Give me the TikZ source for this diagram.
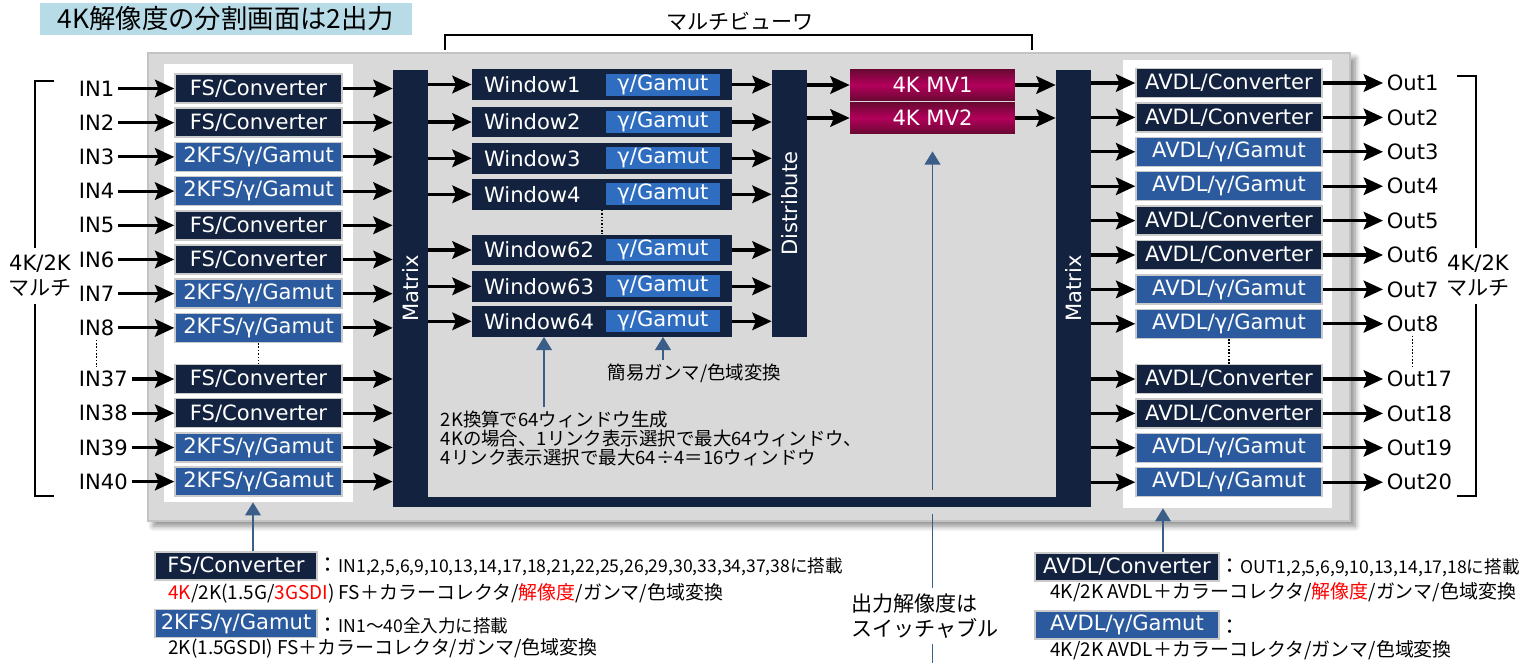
\documentclass[tikz,border=0pt]{standalone}
\usepackage{fontspec}
\setmainfont{DejaVu Sans}
\newfontfamily\jp{Noto Sans CJK JP}
\usetikzlibrary{
  arrows.meta,
  positioning,
  calc,
  shadows.blur
}
\definecolor{ink}{HTML}{000000}
\definecolor{navy}{HTML}{13233F}
\definecolor{midblue}{HTML}{2B5B9E}
\definecolor{gamblue}{HTML}{2F6DC0}
\definecolor{mvdark}{HTML}{6A0833}
\definecolor{mvmid}{HTML}{B3005B}
\definecolor{panelgrey}{HTML}{D9D9D9}
\definecolor{greyline}{HTML}{C3C3C3}
\definecolor{boxline}{HTML}{CACACA}
\definecolor{titlebg}{HTML}{B7DCE8}
\definecolor{notec}{HTML}{3A5E88}
\definecolor{hot}{HTML}{FF0000}
\newcommand\boxfont{\fontsize{12pt}{14.2pt}\selectfont}
\newcommand\notefont{\jp\fontsize{10.5pt}{10.7pt}\selectfont}
\newcommand\legfont{\jp\fontsize{10.8pt}{13pt}\selectfont}
\newcommand\mountfont{\fontsize{10pt}{12pt}\selectfont}
\tikzset{
  every picture/.style={line join=miter},
  titlebox/.style={fill=titlebg, minimum width=7.44cm, minimum height=0.64cm, inner sep=0pt,
    font=\jp\fontsize{15pt}{17pt}\selectfont},
  greyframe/.style={fill=panelgrey, draw=greyline, line width=0.8pt,
    blur shadow={shadow xshift=3pt, shadow yshift=-3pt, shadow blur radius=3pt,
      shadow blur steps=8, shadow opacity=45}},
  panel/.style={fill=white, inner sep=0pt},
  box/.style={draw=boxline, line width=0.85pt, text=white, font=\boxfont,
    minimum height=0.58cm, inner sep=0pt},
  fsbox/.style={box, fill=navy, minimum width=3.34cm},
  fsgam/.style={fsbox, fill=midblue},
  avbox/.style={box, fill=navy, minimum width=3.72cm},
  avgam/.style={avbox, fill=midblue},
  win/.style={fill=navy, text=white, font=\boxfont, text width=4.72cm, align=left,
    inner xsep=0.24cm, inner ysep=0pt, minimum height=0.61cm},
  gam/.style={fill=gamblue, text=white, font=\boxfont, minimum width=2.28cm,
    minimum height=0.44cm, inner sep=0pt},
  bar/.style={fill=navy, inner sep=0pt, minimum width=0.7cm},
  bartext/.style={rotate=90, text=white, font=\boxfont},
  mv/.style={top color=mvdark, bottom color=mvdark, middle color=mvmid, text=white,
    font=\boxfont, minimum width=3.3cm, minimum height=0.62cm, inner sep=0pt},
  inlbl/.style={font=\boxfont, anchor=west, inner sep=2pt},
  jplbl/.style={font=\jp\fontsize{12pt}{14.2pt}\selectfont},
  side/.style={fill=white, font=\boxfont, align=center, inner xsep=1pt, inner ysep=4pt},
  sig/.style={-{Stealth[length=11pt, width=10pt, inset=2pt]}, line width=1.8pt, draw=ink},
  note/.style={draw=notec, line width=0.9pt},
  notearrow/.style={note, -{Triangle[length=7.5pt, width=9pt]}},
  dotline/.style={densely dotted, line width=0.9pt},
  brack/.style={line width=0.8pt},
  notetxt/.style={font=\notefont, align=left, inner sep=2pt},
  legbox/.style={box, minimum height=0.56cm},
  legtxt/.style={font=\jp\fontsize{12pt}{14pt}\selectfont, anchor=west, inner sep=0pt},
  legline/.style={font=\legfont, anchor=west, inner sep=2pt}
}
\begin{document}
\begin{tikzpicture}[x=0.02cm, y=-0.02cm]
  \useasboundingbox (0,0) rectangle (1524,663);

  % Title and frame
  \node[titlebox] (ttl) at (226,19) {4K解像度の分割画面は2出力};
  \path[greyframe] (148,53) rectangle (1350,521);
  \draw[brack] (445,50) -- (445,35) -- (1032,35) -- (1032,50);
  \node[jplbl] (mvttl) at (740,21) {マルチビューワ};

  % Panels and bars
  \node[panel, minimum width=3.78cm, minimum height=8.76cm] (panL) at (258.5,283) {};
  \node[panel, minimum width=4.18cm, minimum height=8.96cm] (panR) at (1227.5,284) {};
  \node[bar, minimum height=8.74cm] (mxL) at (410.5,288.5) {};
  \node[bar, minimum height=8.74cm] (mxR) at (1073.5,288.5) {};
  \node[bar, minimum width=13.96cm, minimum height=0.2cm] (mxB) at (742,502) {};
  \node[bartext] at (mxL) {Matrix};
  \node[bartext] at (mxR) {Matrix};
  \node[bar, minimum height=5.34cm] (dist) at (789.5,203.5) {};
  \node[bartext] at (dist) {Distribute};

  % Inputs
  \node[inlbl] (in1) at (75,88.5) {IN1};
  \node[inlbl] (in2) at (75,122.7) {IN2};
  \node[inlbl] (in3) at (75,156.9) {IN3};
  \node[inlbl] (in4) at (75,191.1) {IN4};
  \node[inlbl] (in5) at (75,225.3) {IN5};
  \node[inlbl] (in6) at (75,259.5) {IN6};
  \node[inlbl] (in7) at (75,293.7) {IN7};
  \node[inlbl] (in8) at (75,327.9) {IN8};
  \node[inlbl] (in37) at (75,379) {IN37};
  \node[inlbl] (in38) at (75,413.2) {IN38};
  \node[inlbl] (in39) at (75,447.4) {IN39};
  \node[inlbl] (in40) at (75,481.6) {IN40};

  \node[fsbox] (fs1) at (258.5,88.5) {FS/Converter};
  \node[fsbox] (fs2) at (258.5,122.7) {FS/Converter};
  \node[fsgam] (fs3) at (258.5,156.9) {2KFS/γ/Gamut};
  \node[fsgam] (fs4) at (258.5,191.1) {2KFS/γ/Gamut};
  \node[fsbox] (fs5) at (258.5,225.3) {FS/Converter};
  \node[fsbox] (fs6) at (258.5,259.5) {FS/Converter};
  \node[fsgam] (fs7) at (258.5,293.7) {2KFS/γ/Gamut};
  \node[fsgam] (fs8) at (258.5,327.9) {2KFS/γ/Gamut};
  \node[fsbox] (fs37) at (258.5,379) {FS/Converter};
  \node[fsbox] (fs38) at (258.5,413.2) {FS/Converter};
  \node[fsgam] (fs39) at (258.5,447.4) {2KFS/γ/Gamut};
  \node[fsgam] (fs40) at (258.5,481.6) {2KFS/γ/Gamut};

  \draw[sig] (in1) -- (fs1);   \draw[sig] (fs1.east) -- (fs1.east -| mxL.west);
  \draw[sig] (in2) -- (fs2);   \draw[sig] (fs2.east) -- (fs2.east -| mxL.west);
  \draw[sig] (in3) -- (fs3);   \draw[sig] (fs3.east) -- (fs3.east -| mxL.west);
  \draw[sig] (in4) -- (fs4);   \draw[sig] (fs4.east) -- (fs4.east -| mxL.west);
  \draw[sig] (in5) -- (fs5);   \draw[sig] (fs5.east) -- (fs5.east -| mxL.west);
  \draw[sig] (in6) -- (fs6);   \draw[sig] (fs6.east) -- (fs6.east -| mxL.west);
  \draw[sig] (in7) -- (fs7);   \draw[sig] (fs7.east) -- (fs7.east -| mxL.west);
  \draw[sig] (in8) -- (fs8);   \draw[sig] (fs8.east) -- (fs8.east -| mxL.west);
  \draw[sig] (in37) -- (fs37); \draw[sig] (fs37.east) -- (fs37.east -| mxL.west);
  \draw[sig] (in38) -- (fs38); \draw[sig] (fs38.east) -- (fs38.east -| mxL.west);
  \draw[sig] (in39) -- (fs39); \draw[sig] (fs39.east) -- (fs39.east -| mxL.west);
  \draw[sig] (in40) -- (fs40); \draw[sig] (fs40.east) -- (fs40.east -| mxL.west);

  % Windows
  \node[win] (w1) at (602,84.5) {Window1};
  \node[win] (w2) at (602,122) {Window2};
  \node[win] (w3) at (602,158.3) {Window3};
  \node[win] (w4) at (602,194.3) {Window4};
  \node[win] (w62) at (602,250) {Window62};
  \node[win] (w63) at (602,286.3) {Window63};
  \node[win] (w64) at (602,321.3) {Window64};
  \node[gam, left=0.24cm of w1.east] (g1) {γ/Gamut};
  \node[gam, left=0.24cm of w2.east] (g2) {γ/Gamut};
  \node[gam, left=0.24cm of w3.east] (g3) {γ/Gamut};
  \node[gam, left=0.24cm of w4.east] (g4) {γ/Gamut};
  \node[gam, left=0.24cm of w62.east] (g62) {γ/Gamut};
  \node[gam, left=0.24cm of w63.east] (g63) {γ/Gamut};
  \node[gam, left=0.24cm of w64.east] (g64) {γ/Gamut};

  \draw[sig] (w1.west -| mxL.east) -- (w1.west);   \draw[sig] (w1.east) -- (w1.east -| dist.west);
  \draw[sig] (w2.west -| mxL.east) -- (w2.west);   \draw[sig] (w2.east) -- (w2.east -| dist.west);
  \draw[sig] (w3.west -| mxL.east) -- (w3.west);   \draw[sig] (w3.east) -- (w3.east -| dist.west);
  \draw[sig] (w4.west -| mxL.east) -- (w4.west);   \draw[sig] (w4.east) -- (w4.east -| dist.west);
  \draw[sig] (w62.west -| mxL.east) -- (w62.west); \draw[sig] (w62.east) -- (w62.east -| dist.west);
  \draw[sig] (w63.west -| mxL.east) -- (w63.west); \draw[sig] (w63.east) -- (w63.east -| dist.west);
  \draw[sig] (w64.west -| mxL.east) -- (w64.west); \draw[sig] (w64.east) -- (w64.east -| dist.west);

  % Multiviewer outputs
  \node[mv] (mv1) at (932.5,85) {4K MV1};
  \node[mv] (mv2) at (932.5,118) {4K MV2};
  \draw[sig] (mv1.west -| dist.east) -- (mv1.west); \draw[sig] (mv1.east) -- (mv1.east -| mxR.west);
  \draw[sig] (mv2.west -| dist.east) -- (mv2.west); \draw[sig] (mv2.east) -- (mv2.east -| mxR.west);

  % Outputs
  \node[avbox] (av1) at (1229,83) {AVDL/Converter};
  \node[avbox] (av2) at (1229,117.4) {AVDL/Converter};
  \node[avgam] (av3) at (1229,151.8) {AVDL/γ/Gamut};
  \node[avgam] (av4) at (1229,186.2) {AVDL/γ/Gamut};
  \node[avbox] (av5) at (1229,220.6) {AVDL/Converter};
  \node[avbox] (av6) at (1229,255) {AVDL/Converter};
  \node[avgam] (av7) at (1229,289.4) {AVDL/γ/Gamut};
  \node[avgam] (av8) at (1229,323.8) {AVDL/γ/Gamut};
  \node[avbox] (av17) at (1229,379) {AVDL/Converter};
  \node[avbox] (av18) at (1229,413.4) {AVDL/Converter};
  \node[avgam] (av19) at (1229,447.8) {AVDL/γ/Gamut};
  \node[avgam] (av20) at (1229,482.2) {AVDL/γ/Gamut};

  \node[inlbl] (out1) at (1383,83) {Out1};
  \node[inlbl] (out2) at (1383,117.4) {Out2};
  \node[inlbl] (out3) at (1383,151.8) {Out3};
  \node[inlbl] (out4) at (1383,186.2) {Out4};
  \node[inlbl] (out5) at (1383,220.6) {Out5};
  \node[inlbl] (out6) at (1383,255) {Out6};
  \node[inlbl] (out7) at (1383,289.4) {Out7};
  \node[inlbl] (out8) at (1383,323.8) {Out8};
  \node[inlbl] (out17) at (1383,379) {Out17};
  \node[inlbl] (out18) at (1383,413.4) {Out18};
  \node[inlbl] (out19) at (1383,447.8) {Out19};
  \node[inlbl] (out20) at (1383,482.2) {Out20};

  \draw[sig] (av1.west -| mxR.east) -- (av1.west);   \draw[sig] (av1) -- (out1);
  \draw[sig] (av2.west -| mxR.east) -- (av2.west);   \draw[sig] (av2) -- (out2);
  \draw[sig] (av3.west -| mxR.east) -- (av3.west);   \draw[sig] (av3) -- (out3);
  \draw[sig] (av4.west -| mxR.east) -- (av4.west);   \draw[sig] (av4) -- (out4);
  \draw[sig] (av5.west -| mxR.east) -- (av5.west);   \draw[sig] (av5) -- (out5);
  \draw[sig] (av6.west -| mxR.east) -- (av6.west);   \draw[sig] (av6) -- (out6);
  \draw[sig] (av7.west -| mxR.east) -- (av7.west);   \draw[sig] (av7) -- (out7);
  \draw[sig] (av8.west -| mxR.east) -- (av8.west);   \draw[sig] (av8) -- (out8);
  \draw[sig] (av17.west -| mxR.east) -- (av17.west); \draw[sig] (av17) -- (out17);
  \draw[sig] (av18.west -| mxR.east) -- (av18.west); \draw[sig] (av18) -- (out18);
  \draw[sig] (av19.west -| mxR.east) -- (av19.west); \draw[sig] (av19) -- (out19);
  \draw[sig] (av20.west -| mxR.east) -- (av20.west); \draw[sig] (av20) -- (out20);

  % Gaps in the lists
  \draw[dotline] (in8.south) -- (in8.south |- in37.north);
  \draw[dotline] (fs8.south) -- (fs37.north);
  \draw[dotline] (w4.south) -- (w62.north);
  \draw[dotline] (av8.south) -- (av17.north);
  \draw[dotline] (out8.south) -- (out8.south |- out17.north);

  % Brackets
  \draw[brack] (54,81) -- (35,81) -- (35,496) -- (54,496);
  \draw[brack] (1457,76) -- (1476,76) -- (1476,496) -- (1457,496);
  \node[side] (sideL) at (40,276) {4K/2K\\{\jp マルチ}};
  \node[side] (sideR) at (1478,276) {4K/2K\\{\jp マルチ}};

  % Notes
  \node[notetxt] (gnote) at (694.5,373) {簡易ガンマ/色域変換};
  \node[notetxt, anchor=north west] (note64) at (437,407)
    {2K換算で64ウィンドウ生成\\4Kの場合、1リンク表示選択で最大64ウィンドウ、\\4リンク表示選択で最大64÷4＝16ウィンドウ};
  \coordinate (p64) at (544,0);
  \draw[notearrow] (note64.north -| p64) -- (w64.south -| p64);
  \draw[notearrow] (gnote.north -| g64.south) -- (g64.south |- w64.south);

  \node[jplbl, align=left, inner xsep=2pt, inner ysep=3pt] (sw) at (925,616) {出力解像度は\\スイッチャブル};
  \coordinate (pgbot) at (0,663);
  \draw[notearrow, shorten <=4pt, shorten >=10pt] (mxB.north -| mv2.south) -- (mv2.south);
  \draw[note, shorten <=3.5pt] (mxB.south -| mv2.south) -- (sw.north -| mv2.south);
  \draw[note] (sw.south -| mv2.south) -- (mv2.south |- pgbot);

  % Legend
  \node[legbox, fill=navy, minimum width=3.24cm] (legFS) at (236,566) {FS/Converter};
  \node[legbox, fill=midblue, minimum width=3.24cm] (leg2K) at (236,623.5) {2KFS/γ/Gamut};
  \node[legbox, fill=navy, minimum width=3.68cm] (legAC) at (1127,567) {AVDL/Converter};
  \node[legbox, fill=midblue, minimum width=3.68cm] (legAG) at (1127,625) {AVDL/γ/Gamut};

  \node[legtxt] (dFS) at (317,567) {：{\mountfont IN1,2,5,6,9,10,13,14,17,18,21,22,25,26,29,30,33,34,37,38に搭載}};
  \node[legtxt] (d2K) at (317,626) {：{\mountfont IN1～40全入力に搭載}};
  \node[legtxt] (dAC) at (1219,568) {：{\mountfont OUT1,2,5,6,9,10,13,14,17,18に搭載}};
  \node[legtxt] (dAG) at (1219,627) {：};

  \node[legline] (eFS) at (164.5,593) {\textcolor{hot}{4K}/2K(1.5G/\textcolor{hot}{3GSDI}) FS＋カラーコレクタ/\textcolor{hot}{解像度}/ガンマ/色域変換};
  \node[legline] (e2K) at (164.5,648) {2K(1.5GSDI) FS＋カラーコレクタ/ガンマ/色域変換};
  \node[legline] (eAC) at (1046.5,592) {4K/2K AVDL＋カラーコレクタ/\textcolor{hot}{解像度}/ガンマ/色域変換};
  \node[legline] (eAG) at (1046.5,650) {4K/2K AVDL＋カラーコレクタ/ガンマ/色域変換};

  \coordinate (fsup) at (253,0);
  \coordinate (avup) at (1163,0);
  \draw[notearrow] (legFS.north -| fsup) -- (panL.south -| fsup);
  \draw[notearrow] (legAC.north -| avup) -- (panR.south -| avup);
\end{tikzpicture}
\end{document}
